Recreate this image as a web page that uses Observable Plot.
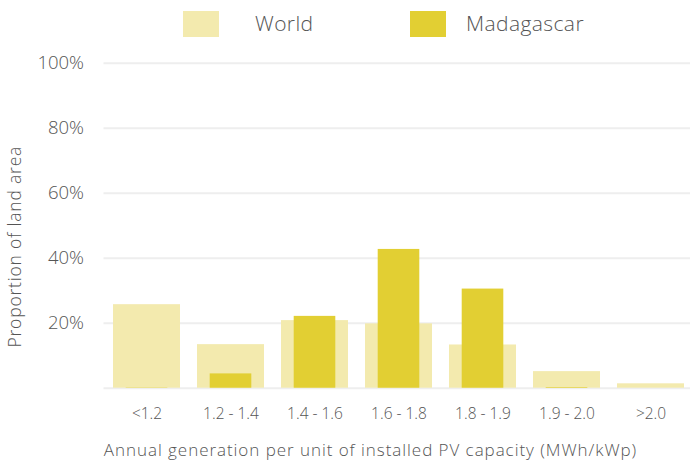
<!DOCTYPE html>
<html>
<head>
<meta charset="utf-8">
<script src="https://cdn.jsdelivr.net/npm/d3@7"></script>
<script src="https://cdn.jsdelivr.net/npm/@observablehq/plot@0.6"></script>
<style>
  html, body { margin: 0; padding: 0; background: #fff; }
  #wrap { width: 690px; font-family: "Open Sans", sans-serif; color: #555; }
  #legend { position: relative; width: 690px; height: 48px; }
  .sw { position: absolute; top: 11px; width: 36px; height: 26px; }
  .lb { position: absolute; top: 8px; font-size: 21px; letter-spacing: 0.4px; font-weight: 300; line-height: 30px; color: #555; }
</style>
</head>
<body>
<div id="wrap">
  <div id="legend"></div>
  <div id="chart"></div>
</div>
<script>
const categories = ["<1.2", "1.2 - 1.4", "1.4 - 1.6", "1.6 - 1.8", "1.8 - 1.9", "1.9 - 2.0", ">2.0"];
const seriesNames = ["World", "Madagascar"];
const worldValues = [25.7, 13.4, 20.8, 19.8, 13.3, 5.1, 1.35];
const madagascarValues = [0.1, 4.4, 22.1, 42.7, 30.5, 0.2, 0];
const seriesColors = ["#f3eaae", "#e2cf33"];
const yTicks = [20, 40, 60, 80, 100];
const gridTicks = [0, 20, 40, 60, 80, 100];
const yTitle = "Proportion of land area";
const xTitle = "Annual generation per unit of installed PV capacity (MWh/kWp)";

const data = categories.map((c, i) => ({cat: c, world: worldValues[i], mada: madagascarValues[i]}));

// legend
const legend = document.getElementById("legend");
const legendPos = [{sw: 183, lb: 255}, {sw: 410, lb: 466}];
seriesNames.forEach((name, i) => {
  const s = document.createElement("div");
  s.className = "sw"; s.style.left = legendPos[i].sw + "px"; s.style.background = seriesColors[i];
  legend.appendChild(s);
  const l = document.createElement("div");
  l.className = "lb"; l.style.left = legendPos[i].lb + "px"; l.textContent = name;
  legend.appendChild(l);
});

const chart = Plot.plot({
  width: 690,
  height: 416,
  marginLeft: 103.5,
  marginRight: -3.5,
  marginTop: 14.7,
  marginBottom: 76.3,
  style: {fontFamily: "Open Sans, sans-serif", background: "white", color: "#555"},
  x: {domain: categories, paddingInner: 0.2, paddingOuter: 0.1, label: null},
  y: {domain: [0, 100], label: null},
  marks: [
    Plot.gridY(gridTicks, {stroke: "#eeeeee", strokeOpacity: 1, strokeWidth: 2}),
    Plot.barY(data, {x: "cat", y: "world", fill: seriesColors[0]}),
    Plot.barY(data, {x: "cat", y: "mada", fill: seriesColors[1], insetLeft: 12.7, insetRight: 12.7}),
    Plot.axisY(yTicks, {tickSize: 0, tickPadding: 20, tickFormat: d => d + "%", fontSize: 18.5, fontWeight: 300, fill: "#555", label: null}),
    Plot.axisX({tickSize: 0, tickPadding: 20, fontSize: 15.5, fontWeight: 300, fill: "#555", label: null}),
    Plot.text([yTitle], {text: d => d, frameAnchor: "left", textAnchor: "middle", rotate: -90, dx: -88.5, dy: 21, fontSize: 17.5, fontWeight: 300, fill: "#555"}),
    Plot.text([xTitle], {text: d => d, frameAnchor: "bottom", dx: -28.5, dy: 68, fontSize: 17, fontWeight: 300, fill: "#555"})
  ]
});
d3.select(chart).selectAll("text").each(function() {
  const t = this.textContent;
  if (t === xTitle) this.setAttribute("letter-spacing", "0.95");
  if (t === yTitle) this.setAttribute("letter-spacing", "0.8");
});
document.getElementById("chart").appendChild(chart);
</script>
</body>
</html>
